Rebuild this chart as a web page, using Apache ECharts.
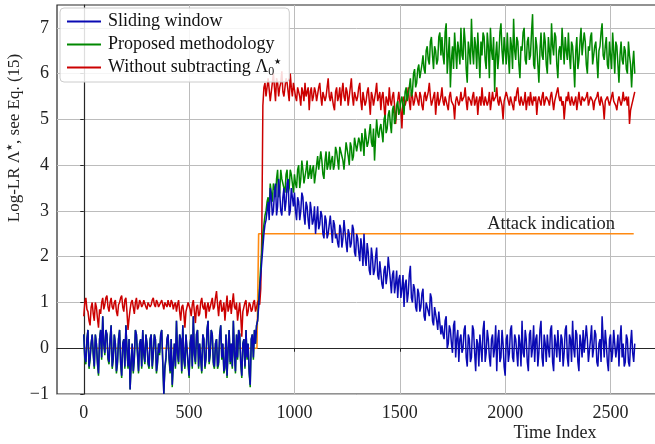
<!DOCTYPE html>
<html>
<head>
<meta charset="utf-8">
<script src="https://cdn.jsdelivr.net/npm/echarts@6/dist/echarts.min.js"></script>
<style>html,body{margin:0;padding:0;background:#fff}#chart{width:655px;height:444px}</style>
</head>
<body>
<div id="chart"></div>
<script>
// ---- data: values at t = 0,10,20,... and in-between values at t = 5,15,25,... ----
const timeStep = 10;
const xTicks = [0, 500, 1000, 1500, 2000, 2500];
const yTicks = [-1, 0, 1, 2, 3, 4, 5, 6, 7];
const seriesNames = ['Sliding window', 'Proposed methodology', 'Without subtracting Λ₀★'];

const slidingWindow = [
  0.3,-0.3,0.4,-0.2,0.3,-0.4,0.1,-0.55,0.4,0.7,
  -0.1,0.3,-0.3,0.5,-0.2,0.1,-0.3,0.4,-0.6,0.2,
  0.5,-0.4,-0.9,0.1,-0.2,0.3,-0.5,0.2,0.4,-0.3,
  0.1,-0.4,0.3,-0.1,0.2,-0.3,-0.1,0.4,-1.0,-0.2,
  0.3,-0.5,-0.8,0.1,0.6,-0.3,0.2,0.5,-0.4,0.0,
  -0.6,0.3,0.7,-0.3,0.4,0.1,-0.5,0.2,-0.2,0.6,
  -0.1,0.3,-0.4,0.2,-0.3,0.5,0.1,-0.4,-0.6,0.4,
  0.1,0.6,-0.5,-0.2,0.3,-0.6,0.2,0.4,0.1,-0.8,
  0.3,0.4,0.5,0.9,1.6,2.2,2.7,3.0,2.8,3.3,
  3.0,3.6,3.1,3.4,2.9,3.5,3.2,3.7,3.0,3.3,
  3.4,2.8,3.2,3.0,3.3,2.7,3.1,2.6,3.0,2.8,
  2.5,3.1,2.7,2.9,2.4,2.8,2.5,2.9,2.3,2.7,
  2.5,2.2,2.6,2.4,2.8,2.1,2.5,2.3,2.6,2.0,
  2.4,1.9,2.2,2.5,1.8,2.1,1.6,2.0,1.7,2.2,
  1.5,1.9,1.3,1.8,1.6,2.0,1.2,1.7,1.4,1.1,
  1.6,1.3,0.9,1.5,1.2,1.8,1.0,1.3,0.8,1.2,
  0.9,1.3,0.6,1.0,0.7,1.1,0.5,0.9,0.4,0.8,
  0.5,0.2,0.7,0.1,0.4,-0.1,0.6,0.2,-0.3,0.3,
  0.0,0.5,-0.4,0.2,-0.2,0.4,-0.5,0.1,0.3,-0.3,
  0.6,-0.1,0.2,-0.4,0.3,0.0,-0.5,0.4,-0.2,0.1,
  -0.6,0.3,-0.1,0.5,-0.3,0.2,-0.4,0.1,0.6,-0.2,
  0.2,-0.5,0.4,0.0,-0.3,0.3,-0.1,0.6,-0.4,0.1,
  0.3,-0.2,0.5,-0.5,0.1,0.4,-0.3,0.2,-0.1,0.5,
  -0.4,0.2,0.6,-0.2,0.3,-0.5,0.1,0.4,-0.1,0.2,
  -0.3,0.5,0.0,0.3,-0.4,0.2,0.7,-0.2,0.1,-0.5,
  0.3,-0.1,0.4,0.0,-0.4,0.5,0.1,-0.3,0.2,-0.4,
  0.4,-0.3
];
const slidingWindowMid = [
  -0.2,0.2,-0.4,0.1,-0.1,0.3,-0.3,0.2,-0.2,0.1,
  0.4,-0.2,0.2,-0.4,0.3,-0.5,0.2,-0.3,0.1,-0.4,
  0.0,0.2,-0.3,-0.5,0.4,-0.1,0.1,-0.4,-0.1,0.3,
  -0.3,0.2,-0.4,0.3,-0.5,0.1,0.3,-0.3,-0.4,0.2,
  -0.2,0.2,-0.3,-0.4,-0.1,0.3,-0.5,-0.2,0.3,-0.3,
  0.1,-0.4,-0.1,0.3,-0.4,-0.2,0.3,-0.4,0.4,-0.3,
  0.4,-0.3,0.1,-0.4,0.3,-0.2,-0.5,0.3,0.0,-0.3,
  -0.4,-0.1,0.3,0.4,-0.3,0.1,-0.4,-0.2,-0.5,0.2,
  -0.2,0.1,0.6,1.3,1.9,2.5,2.8,3.2,3.5,2.9,
  3.4,2.9,3.7,3.0,3.3,3.0,3.6,2.9,3.5,3.1,
  3.0,3.3,2.8,3.4,2.9,3.2,2.8,3.2,2.7,3.1,
  2.8,2.6,3.0,2.5,2.9,2.4,2.7,2.6,2.8,2.4,
  2.3,2.7,2.2,2.8,2.3,2.6,2.2,2.7,2.1,2.5,
  2.1,2.4,1.8,2.0,2.3,1.7,2.2,1.6,2.0,1.6,
  1.9,1.4,1.7,1.4,2.0,1.5,1.6,1.2,1.7,1.5,
  1.1,1.6,1.4,1.0,1.6,1.1,1.4,0.9,1.3,0.8,
  1.2,0.7,1.0,0.8,1.2,0.6,0.9,0.6,0.8,0.3,
  0.3,0.6,0.0,0.5,0.1,0.5,-0.2,0.4,0.2,-0.1,
  0.4,-0.2,0.3,-0.3,0.5,-0.1,0.2,-0.4,0.0,0.4,
  -0.3,0.4,-0.2,0.2,-0.2,0.5,0.2,-0.3,0.4,-0.4,
  0.2,-0.3,0.4,-0.2,0.3,-0.1,0.3,-0.4,-0.1,0.4,
  -0.3,0.3,-0.2,0.5,0.2,-0.4,0.4,-0.2,0.3,-0.3,
  0.0,0.4,-0.3,0.3,-0.2,0.0,0.3,-0.4,0.4,-0.2,
  0.3,-0.3,0.0,0.4,-0.3,0.3,-0.2,-0.1,0.5,-0.3,
  0.2,-0.2,0.4,-0.3,0.1,-0.3,0.2,0.4,-0.3,0.2,
  -0.3,0.4,-0.2,0.3,0.2,-0.2,-0.4,0.3,-0.3,0.1,
  -0.1,0.1
];

const proposed = [
  0.3,-0.35,0.4,-0.25,0.3,-0.45,0.1,-0.6,0.4,0.7,
  -0.15,0.3,-0.35,0.5,-0.25,0.1,-0.35,0.4,-0.65,0.2,
  0.5,-0.45,-0.9,0.1,-0.25,0.3,-0.55,0.2,0.4,-0.35,
  0.1,-0.45,0.3,-0.15,0.2,-0.35,-0.15,0.4,-1.0,-0.25,
  0.3,-0.55,-0.85,0.1,0.6,-0.35,0.2,0.5,-0.45,-0.05,
  -0.65,0.3,0.7,-0.35,0.4,0.1,-0.55,0.2,-0.25,0.6,
  -0.15,0.3,-0.45,0.2,-0.35,0.5,0.1,-0.45,-0.65,0.4,
  0.1,0.6,-0.55,-0.25,0.3,-0.65,0.2,0.4,0.1,-0.85,
  0.3,0.4,0.5,1.0,1.8,2.5,2.9,3.2,3.0,3.4,
  3.6,3.3,3.9,3.4,3.7,3.5,3.8,3.4,3.9,3.6,
  3.8,3.5,4.0,3.7,3.9,3.6,4.1,3.8,3.7,4.0,
  3.8,4.2,3.9,4.1,3.7,4.3,4.0,3.9,4.2,4.0,
  4.3,3.9,4.4,4.1,4.2,4.5,4.0,4.4,4.2,4.6,
  4.3,4.5,4.7,4.2,4.8,4.5,4.9,4.4,4.1,5.0,
  4.6,4.9,4.5,5.1,4.8,5.2,4.7,5.3,5.0,5.4,
  5.2,5.5,5.1,5.7,5.4,5.9,5.6,6.1,5.8,6.2,
  5.9,6.4,6.0,6.6,6.2,6.8,6.1,6.5,6.3,6.9,
  6.8,6.2,7.1,6.4,5.7,6.6,6.9,6.1,6.5,7.0,
  6.3,6.7,5.8,6.5,7.2,6.2,6.6,6.9,5.9,6.4,
  6.8,6.1,6.6,7.0,6.3,5.6,6.7,6.4,7.1,6.2,
  6.5,6.9,6.0,6.6,7.2,6.3,6.7,5.9,6.5,7.0,
  6.2,6.8,6.4,7.3,6.1,6.6,5.8,6.9,6.3,6.7,
  6.0,6.5,7.1,6.4,6.8,5.9,6.6,7.0,6.2,6.5,
  6.9,6.1,6.6,5.7,6.8,6.3,7.0,6.4,6.7,6.0,
  6.5,6.9,6.2,6.7,5.9,6.6,7.1,6.3,6.8,6.1,
  6.4,6.9,6.0,6.6,5.8,6.7,6.2,6.5,6.0,6.4,
  5.7,6.5
];
const proposedMid = [
  -0.25,0.2,-0.45,0.1,-0.15,0.3,-0.35,0.2,-0.25,0.1,
  0.4,-0.25,0.2,-0.45,0.3,-0.55,0.2,-0.35,0.1,-0.45,
  -0.05,0.2,-0.35,-0.55,0.4,-0.15,0.1,-0.45,-0.15,0.3,
  -0.35,0.2,-0.45,0.3,-0.55,0.1,0.3,-0.35,-0.45,0.2,
  -0.25,0.2,-0.35,-0.45,-0.15,0.3,-0.55,-0.25,0.3,-0.35,
  0.1,-0.45,-0.15,0.3,-0.45,-0.25,0.3,-0.45,0.4,-0.35,
  0.4,-0.35,0.1,-0.45,0.3,-0.25,-0.55,0.3,-0.05,-0.35,
  -0.45,-0.15,0.3,0.4,-0.35,0.1,-0.45,-0.25,-0.55,0.2,
  -0.25,0.1,0.6,1.4,2.1,2.7,3.0,3.3,3.6,3.2,
  3.5,3.7,3.3,3.9,3.6,3.4,3.9,3.5,3.8,3.4,
  3.6,3.9,3.5,4.1,3.6,3.9,3.7,4.0,3.9,3.6,
  4.0,3.9,4.3,3.8,4.1,3.9,4.3,4.1,3.9,4.4,
  4.1,4.4,4.2,3.9,4.5,4.2,4.5,4.1,4.6,4.3,
  4.6,4.3,4.5,4.8,4.4,4.7,4.5,4.8,4.6,4.7,
  4.8,4.7,5.0,4.7,5.1,4.9,5.2,4.9,5.3,5.1,
  5.4,5.3,5.6,5.4,5.7,5.5,6.0,5.7,6.1,5.9,
  6.2,6.1,6.5,6.3,6.7,6.4,6.6,6.2,6.8,6.4,
  6.4,6.9,6.0,6.8,6.3,6.1,6.5,6.7,6.2,6.4,
  7.0,6.1,6.7,6.2,6.5,6.8,6.1,6.4,6.7,6.9,
  6.3,6.9,5.9,6.5,6.8,6.4,6.1,6.9,6.5,6.8,
  6.2,6.4,6.8,6.1,6.5,6.8,6.2,6.6,6.9,6.3,
  6.7,6.3,6.9,6.2,6.8,6.2,6.5,6.4,6.9,6.2,
  6.8,6.2,6.6,6.9,6.2,6.5,6.3,6.6,6.8,6.3,
  6.4,6.7,6.2,6.5,6.1,6.7,6.4,6.9,6.2,6.6,
  6.8,6.2,6.6,6.3,6.5,6.9,6.4,6.6,6.2,6.7,
  6.1,6.5,6.7,6.2,6.4,6.3,6.6,6.1,6.7,6.2,
  6.2,6.0
];

const withoutSubtracting = [
  0.7,1.1,0.8,0.5,1.0,0.6,0.9,0.45,0.75,1.1,
  0.95,1.15,0.8,1.1,0.85,1.05,0.7,1.0,1.15,0.8,
  1.1,0.4,0.85,1.05,0.75,1.1,0.9,1.0,0.95,1.05,
  0.85,1.0,0.95,1.1,0.9,1.0,0.95,1.05,0.85,1.0,
  1.05,0.9,1.0,0.95,0.8,1.05,0.6,0.95,0.45,0.9,
  1.0,0.7,1.05,0.55,0.95,0.75,1.1,0.85,0.65,1.0,
  0.8,1.1,0.9,1.25,0.7,1.05,0.85,0.6,1.15,0.9,
  0.75,1.2,0.85,0.6,1.0,0.25,0.9,1.05,0.8,0.95,
  0.85,1.05,0.9,1.05,1.3,5.3,5.8,5.5,5.9,5.6,
  6.0,5.4,5.8,5.7,6.05,5.5,5.9,5.6,6.0,5.5,
  5.8,5.4,5.7,5.3,5.6,5.8,5.5,5.2,5.7,5.5,
  5.6,5.4,5.8,5.3,5.6,5.5,5.9,5.4,5.6,5.2,
  5.7,5.5,5.3,5.8,5.4,5.6,5.5,5.9,5.3,5.6,
  5.5,5.8,5.2,5.6,5.4,5.7,5.1,5.5,5.3,5.8,
  5.4,5.2,5.6,5.0,5.5,5.7,5.3,5.6,4.9,5.4,
  5.6,4.8,5.5,5.3,5.7,5.2,5.5,5.4,5.6,5.3,
  5.5,5.2,5.6,5.4,5.8,5.3,5.5,5.1,5.6,5.4,
  5.7,5.3,5.5,5.2,5.6,5.4,5.0,5.5,5.3,5.6,
  5.4,5.7,5.2,5.5,5.3,5.6,5.4,5.1,5.5,5.7,
  5.3,5.5,5.4,5.2,5.6,5.4,5.7,5.3,5.5,5.0,
  5.4,5.6,5.3,5.5,5.2,5.4,5.7,5.3,5.5,5.4,
  5.2,5.5,5.6,5.3,5.4,5.1,5.5,5.3,5.6,5.4,
  5.5,5.3,5.6,5.2,5.5,5.7,5.4,5.3,5.0,5.5,
  5.6,5.3,5.5,5.4,5.2,5.6,5.3,5.5,5.4,5.6,
  5.3,5.5,5.2,5.4,5.6,5.3,5.5,5.0,5.4,5.5,
  5.3,5.6,5.4,5.2,5.5,5.3,5.6,5.4,5.3,4.9,
  5.3,5.5
];
const withoutSubtractingMid = [
  1.0,0.85,0.6,0.9,0.75,1.0,0.65,0.85,1.0,0.85,
  1.1,0.9,1.0,0.9,1.0,0.8,0.95,1.1,0.9,1.05,
  0.8,0.65,1.0,0.9,1.0,0.85,1.05,0.9,1.05,0.9,
  1.0,0.9,1.05,0.95,1.05,0.9,1.0,0.95,1.0,0.9,
  0.95,1.05,0.85,1.0,0.95,0.8,0.9,0.75,0.8,1.0,
  0.85,0.95,0.8,0.9,0.7,1.0,0.9,1.0,0.9,0.8,
  1.0,0.85,1.1,0.95,1.0,0.8,1.0,0.9,0.8,1.05,
  1.0,0.9,1.0,0.8,0.7,0.8,1.0,0.7,1.0,0.8,
  1.0,0.8,1.0,0.95,2.5,5.7,5.5,5.9,5.4,5.8,
  5.7,5.9,5.5,5.8,5.6,5.7,5.8,5.4,5.7,5.8,
  5.5,5.7,5.5,5.7,5.4,5.5,5.7,5.6,5.4,5.7,
  5.4,5.7,5.5,5.6,5.4,5.7,5.5,5.6,5.3,5.6,
  5.4,5.7,5.6,5.5,5.7,5.3,5.7,5.5,5.6,5.4,
  5.7,5.4,5.6,5.3,5.6,5.4,5.6,5.3,5.6,5.4,
  5.6,5.5,5.3,5.5,5.3,5.4,5.5,5.3,5.2,5.6,
  5.2,5.4,5.3,5.5,5.4,5.6,5.3,5.6,5.4,5.6,
  5.3,5.5,5.4,5.6,5.5,5.4,5.6,5.4,5.3,5.5,
  5.4,5.5,5.3,5.5,5.4,5.3,5.4,5.5,5.4,5.4,
  5.5,5.4,5.5,5.4,5.5,5.3,5.5,5.4,5.3,5.4,
  5.5,5.3,5.6,5.4,5.4,5.5,5.4,5.5,5.3,5.4,
  5.6,5.4,5.5,5.3,5.5,5.6,5.4,5.5,5.3,5.6,
  5.4,5.3,5.4,5.5,5.5,5.4,5.4,5.5,5.3,5.5,
  5.4,5.5,5.4,5.4,5.6,5.5,5.5,5.4,5.3,5.4,
  5.4,5.5,5.3,5.5,5.4,5.4,5.5,5.4,5.5,5.3,
  5.5,5.4,5.4,5.5,5.4,5.5,5.3,5.4,5.5,5.3,
  5.5,5.4,5.3,5.4,5.5,5.4,5.4,5.5,5.5,5.2,
  5.4,5.6
];

const attackTime = [0, 822, 830, 2610];
const attackLevel = [0, 0, 2.5, 2.5];
const attackLabel = 'Attack indication';
const attackLabelAt = [2218, 2.72];

// ---- chart ----
const FONT = '"Liberation Serif", "DejaVu Serif", serif';
function interleave(main, mid) {
  const out = [];
  main.forEach((v, i) => {
    out.push([i * timeStep, v]);
    if (mid[i] !== undefined) out.push([i * timeStep + timeStep / 2, mid[i]]);
  });
  return out;
}
const pair = (xs, ys) => ys.map((v, i) => [xs[i], v]);

const chart = echarts.init(document.getElementById('chart'), null, { renderer: 'canvas' });
chart.setOption({
  animation: false,
  backgroundColor: '#fff',
  textStyle: { fontFamily: FONT },
  grid: {
    left: 57, top: 5, bottom: 50, right: -8,
    show: true, borderColor: '#262626', borderWidth: 1.2,
    outerBoundsMode: 'none', containLabel: false
  },
  xAxis: {
    type: 'value', min: -127, max: 2749,
    axisLine: { show: true, lineStyle: { color: '#262626', width: 1.2 } },
    axisTick: { show: true, length: 3.5, lineStyle: { color: '#262626' }, customValues: xTicks },
    axisLabel: { customValues: xTicks, fontFamily: FONT, fontSize: 18, color: '#222', margin: 10,
                 formatter: v => String(v) },
    splitLine: { show: true, lineStyle: { color: '#bcbcbc', width: 1 } }
  },
  yAxis: {
    type: 'value', min: -1, max: 7.5,
    axisLine: { show: true, lineStyle: { color: '#262626', width: 1.2 } },
    axisTick: { show: true, length: 3.5, lineStyle: { color: '#262626' }, customValues: yTicks },
    axisLabel: {
      customValues: yTicks, fontFamily: FONT, fontSize: 18, color: '#222', margin: 8,
      formatter: v => (v < 0 ? '\u2212' + Math.abs(v) : String(v))
    },
    splitLine: { show: true, lineStyle: { color: '#bcbcbc', width: 1 } }
  },
  legend: {
    data: seriesNames.map(n => ({ name: n, icon: 'rect' })),
    orient: 'vertical', left: 60, top: 8,
    padding: [4, 8, 4, 7],
    itemWidth: 34, itemHeight: 2, itemGap: 4,
    backgroundColor: 'rgba(255,255,255,0.85)',
    borderColor: '#cccccc', borderWidth: 1, borderRadius: 4,
    textStyle: {
      fontFamily: FONT, fontSize: 18, color: '#111', lineHeight: 19, padding: [0, 0, 0, 2],
      rich: {
        t: { fontFamily: FONT, fontSize: 18, color: '#111' },
        sub: { fontFamily: FONT, fontSize: 12, color: '#111', padding: [9, 0, 0, 0] },
        sup: { fontFamily: FONT, fontSize: 8, color: '#111', padding: [0, 0, 11, 0] }
      }
    },
    formatter: name => (name === seriesNames[2]
      ? '{t|Without subtracting Λ}{sub|0}{sup|★}' : name)
  },
  graphic: [
    {
      type: 'text', x: 15, y: 138, rotation: Math.PI / 2,
      style: {
        text: '{n|Log-LR Λ}{s|★}{n|, see Eq. (15)}',
        align: 'center', verticalAlign: 'middle',
        rich: {
          n: { fontFamily: FONT, fontSize: 17, fill: '#222' },
          s: { fontFamily: FONT, fontSize: 8, fill: '#222', padding: [0, 0, 10, 0] }
        }
      }
    },
    {
      type: 'text', x: 555, y: 433,
      style: { text: 'Time Index', font: '18px ' + FONT, fill: '#222', align: 'center', verticalAlign: 'middle' }
    }
  ],
  series: [
    {
      name: attackLabel, type: 'line', data: pair(attackTime, attackLevel),
      showSymbol: false, symbol: 'none',
      lineStyle: { color: '#ff8a12', width: 1.6 }, itemStyle: { color: '#ff8a12' },
      markPoint: {
        symbol: 'circle', symbolSize: 0, silent: true,
        data: [{ coord: attackLabelAt }],
        label: { show: true, position: 'inside', formatter: attackLabel,
                 fontFamily: FONT, fontSize: 18.5, color: '#222' }
      }
    },
    {
      name: seriesNames[2], type: 'line', data: interleave(withoutSubtracting, withoutSubtractingMid),
      showSymbol: false, symbol: 'none', sampling: 'none',
      lineStyle: { color: '#cc0000', width: 1.5 }, itemStyle: { color: '#cc0000' }
    },
    {
      name: seriesNames[1], type: 'line', data: interleave(proposed, proposedMid),
      showSymbol: false, symbol: 'none', sampling: 'none',
      lineStyle: { color: '#008800', width: 1.5 }, itemStyle: { color: '#008800' }
    },
    {
      name: seriesNames[0], type: 'line', data: interleave(slidingWindow, slidingWindowMid),
      showSymbol: false, symbol: 'none', sampling: 'none',
      lineStyle: { color: '#0a0ab4', width: 1.5 }, itemStyle: { color: '#0a0ab4' }
    }
  ]
});
</script>
</body>
</html>
